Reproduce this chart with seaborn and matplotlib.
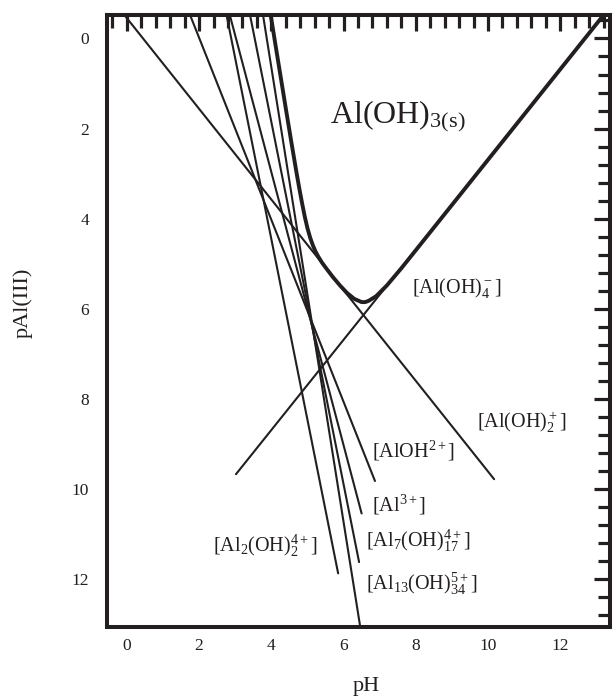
import matplotlib
matplotlib.use('Agg')
import matplotlib.pyplot as plt
from matplotlib.ticker import MultipleLocator
import pandas as pd
import seaborn as sns

# species lines, end points (pH, pAl)
species = ['Al(OH)2+', 'AlOH2+', 'Al3+', 'Al2(OH)2', 'Al7(OH)17', 'Al13(OH)34', 'Al(OH)4-']
ph_start = [-0.05, 1.75, 2.85, 2.76, 3.41, 3.77, 3.02]
pal_start = [-0.50, -0.52, -0.52, -0.52, -0.52, -0.52, 9.67]
ph_end = [10.17, 6.87, 6.50, 5.85, 6.43, 6.47, 13.25]
pal_end = [9.78, 9.82, 10.54, 11.87, 11.62, 13.10, -0.57]

# total solubility (bold curve)
total_ph = [3.98, 4.10, 4.25, 4.40, 4.55, 4.70, 4.775, 4.85, 4.925, 5.00, 5.075, 5.15,
            5.225, 5.30, 5.40, 5.50, 5.70, 5.90, 6.10, 6.30, 6.50, 6.60, 6.70, 6.90,
            7.20, 7.60, 8.00, 13.40]
total_pal = [-0.53, 0.07, 0.81, 1.55, 2.28, 2.99, 3.33, 3.65, 3.95, 4.21, 4.42, 4.59,
             4.73, 4.84, 4.97, 5.08, 5.29, 5.48, 5.65, 5.78, 5.85, 5.85, 5.82, 5.72,
             5.48, 5.10, 4.70, -0.72]

# annotations
label_text = [r'[Al(OH)$_4^-$]', r'[Al(OH)$_2^+$]', r'[AlOH$^{2+}$]', r'[Al$^{3+}$]',
              r'[Al$_7$(OH)$_{17}^{4+}$]', r'[Al$_{13}$(OH)$_{34}^{5+}$]', r'[Al$_2$(OH)$_2^{4+}$]']
label_ph = [7.89, 9.69, 6.79, 6.79, 6.62, 6.62, 2.38]
label_pal = [5.65, 8.65, 9.29, 10.49, 11.29, 12.24, 11.40]

ink = '#231f20'

sns.set_style('white')
plt.rcParams['font.family'] = ['Liberation Serif', 'DejaVu Serif']
plt.rcParams['mathtext.fontset'] = 'custom'
plt.rcParams['mathtext.rm'] = 'Liberation Serif'
plt.rcParams['mathtext.it'] = 'Liberation Serif'
plt.rcParams['mathtext.default'] = 'regular'

fig = plt.figure(figsize=(6.13, 6.99), dpi=100)
ax = fig.add_axes([0.1746, 0.103, 0.8206, 0.8755])

lines = pd.DataFrame({
    'species': species * 2,
    'pH': ph_start + ph_end,
    'pAl': pal_start + pal_end,
})
for sp in species:
    d = lines[lines['species'] == sp]
    sns.lineplot(data=d, x='pH', y='pAl', ax=ax, color=ink, lw=1.5,
                 estimator=None, sort=False)

sns.lineplot(x=total_ph, y=total_pal, ax=ax, color=ink, lw=2.8,
             estimator=None, sort=False)

for t, xx, yy in zip(label_text, label_ph, label_pal):
    ax.text(xx, yy, t, fontsize=14.5, color=ink, ha='left', va='baseline')

ax.text(5.62, 1.88, r'Al(OH)$_{3(s)}$', fontsize=23, color=ink, ha='left', va='baseline')

ax.set_xlim(-0.55, 13.38)
ax.set_ylim(13.06, -0.52)
ax.xaxis.set_major_locator(MultipleLocator(2))
ax.xaxis.set_minor_locator(MultipleLocator(0.4))
ax.yaxis.set_major_locator(MultipleLocator(2))
ax.yaxis.set_minor_locator(MultipleLocator(0.4))
ax.tick_params(which='both', direction='in', top=True, right=True,
               color=ink, width=2.3, labelcolor=ink, labelsize=12.5)
ax.tick_params(which='major', length=11.5)
ax.tick_params(which='minor', length=9)
ax.tick_params(axis='x', pad=8)
ax.tick_params(axis='y', pad=13)
for s in ax.spines.values():
    s.set_linewidth(2.9)
    s.set_color(ink)

ax.set_xlabel('pH', fontsize=16, color=ink)
ax.set_ylabel('pAl(III)', fontsize=16, color=ink)
ax.xaxis.set_label_coords(0.515, -0.082)
ax.yaxis.set_label_coords(-0.147, 0.53)

fig.savefig('out.png', dpi=100)
